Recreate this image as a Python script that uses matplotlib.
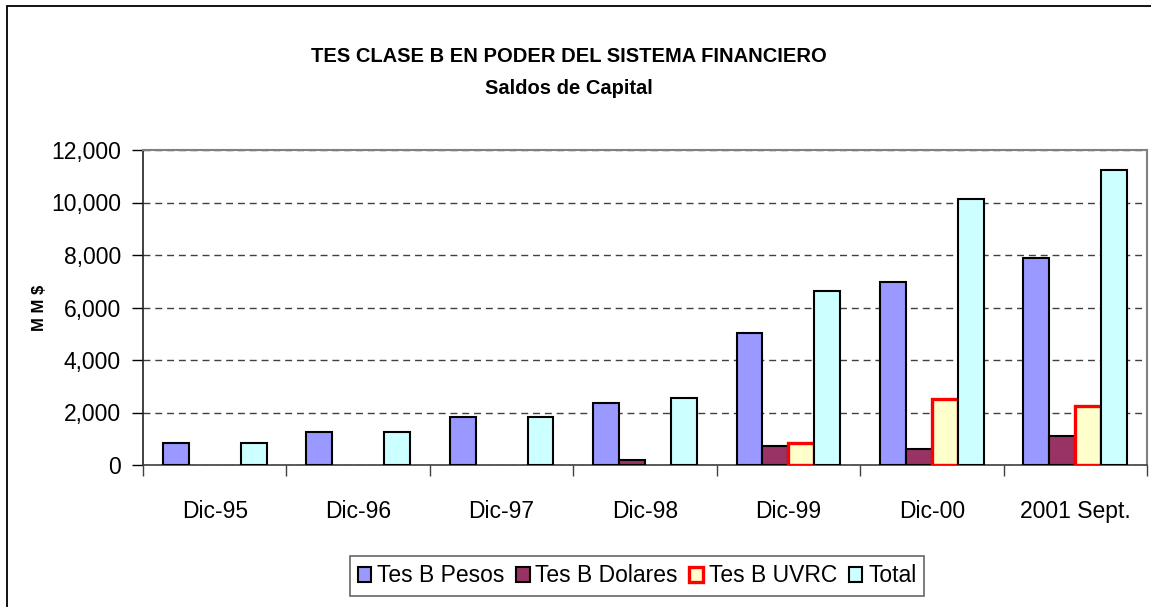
import numpy as np
import matplotlib
matplotlib.use("Agg")
import matplotlib.pyplot as plt
from matplotlib.patches import Rectangle, Patch
from matplotlib.ticker import FuncFormatter, FixedLocator

# data (MM $)
categories = ["Dic-95", "Dic-96", "Dic-97", "Dic-98", "Dic-99", "Dic-00", "2001 Sept."]
pesos = [850, 1270, 1840, 2350, 5040, 6970, 7900]
dolares = [0, 0, 0, 190, 720, 610, 1100]
uvrc = [0, 0, 0, 0, 830, 2530, 2250]
total = [850, 1270, 1840, 2540, 6630, 10120, 11250]
series_names = ["Tes B Pesos", "Tes B Dolares", "Tes B UVRC", "Total"]

plt.rcParams["font.family"] = ["Liberation Sans", "DejaVu Sans"]

W, H = 1151, 607
fig = plt.figure(figsize=(W / 100, H / 100), dpi=100)
fig.patch.set_facecolor("white")

# outer chart frame (runs off right and bottom edges)
fig.patches.append(Rectangle((7 / W, -0.1), 1.2, 1.1 - 6 / H, transform=fig.transFigure,
                             fill=False, edgecolor="black", linewidth=1.3))

ax = fig.add_axes([143 / W, 1 - 465 / H, (1147 - 143) / W, (465 - 150) / H])

styles = [
    dict(facecolor="#9999FF", edgecolor="black", linewidth=1.5),
    dict(facecolor="#993366", edgecolor="black", linewidth=1.5),
    dict(facecolor="#FFFFCC", edgecolor="#FF0000", linewidth=2.4),
    dict(facecolor="#CCFFFF", edgecolor="black", linewidth=1.5),
]
w = 0.181
offsets = [-1.5 * w, -0.5 * w, 0.5 * w, 1.5 * w]
x = np.arange(len(categories)) + 0.5
for vals, off, st in zip([pesos, dolares, uvrc, total], offsets, styles):
    vals = np.array(vals, dtype=float)
    keep = vals > 0
    ax.bar(x[keep] + off, vals[keep], width=w, zorder=3, **st)

ax.set_xlim(0, len(categories))
ax.set_ylim(0, 12000)
ax.set_yticks(np.arange(0, 12001, 2000))
ax.yaxis.set_major_formatter(FuncFormatter(lambda v, p: f"{v:,.0f}"))
ax.yaxis.grid(True, linestyle=(0, (5, 3.5)), color="#404040", linewidth=1.0, zorder=1)

ax.xaxis.set_major_locator(FixedLocator(np.arange(0, len(categories) + 1)))
ax.xaxis.set_minor_locator(FixedLocator(x))
ax.set_xticklabels([], minor=False)
ax.set_xticklabels(categories, minor=True)
ax.tick_params(axis="x", which="major", direction="out", length=8, width=1, color="#404040")
ax.tick_params(axis="x", which="minor", length=0, pad=25, labelsize=16.5)
ax.tick_params(axis="y", direction="out", length=8, width=1, pad=8, labelsize=16.5)

for s in ["top", "right"]:
    ax.spines[s].set_color("#808080")
    ax.spines[s].set_linewidth(1.5)
ax.spines["left"].set_color("#202020")
ax.spines["bottom"].set_color("#404040")
ax.spines["left"].set_linewidth(1.2)
ax.spines["bottom"].set_linewidth(1.2)

fig.text(40 / W, 1 - 308 / H, "M M $", rotation=90, ha="center", va="center",
         fontsize=12, fontweight="bold")

fig.text(569 / W, 1 - 57 / H, "TES CLASE B EN PODER DEL SISTEMA FINANCIERO",
         ha="center", va="center", fontsize=14.5, fontweight="bold")
fig.text(569 / W, 1 - 89 / H, "Saldos de Capital",
         ha="center", va="center", fontsize=14.5, fontweight="bold")

handles = [Patch(**st) for st in styles]
leg = fig.legend(handles, series_names, loc="center", bbox_to_anchor=(637 / W, 1 - 576 / H),
                 ncol=4, frameon=True, fancybox=False, handlelength=0.6, handleheight=0.6,
                 handletextpad=0.25, columnspacing=0.5, borderpad=0.35,
                 prop={"size": 16.5})
leg.get_frame().set_edgecolor("#404040")
leg.get_frame().set_linewidth(1.2)

fig.savefig("out.png", dpi=100, facecolor="white")
